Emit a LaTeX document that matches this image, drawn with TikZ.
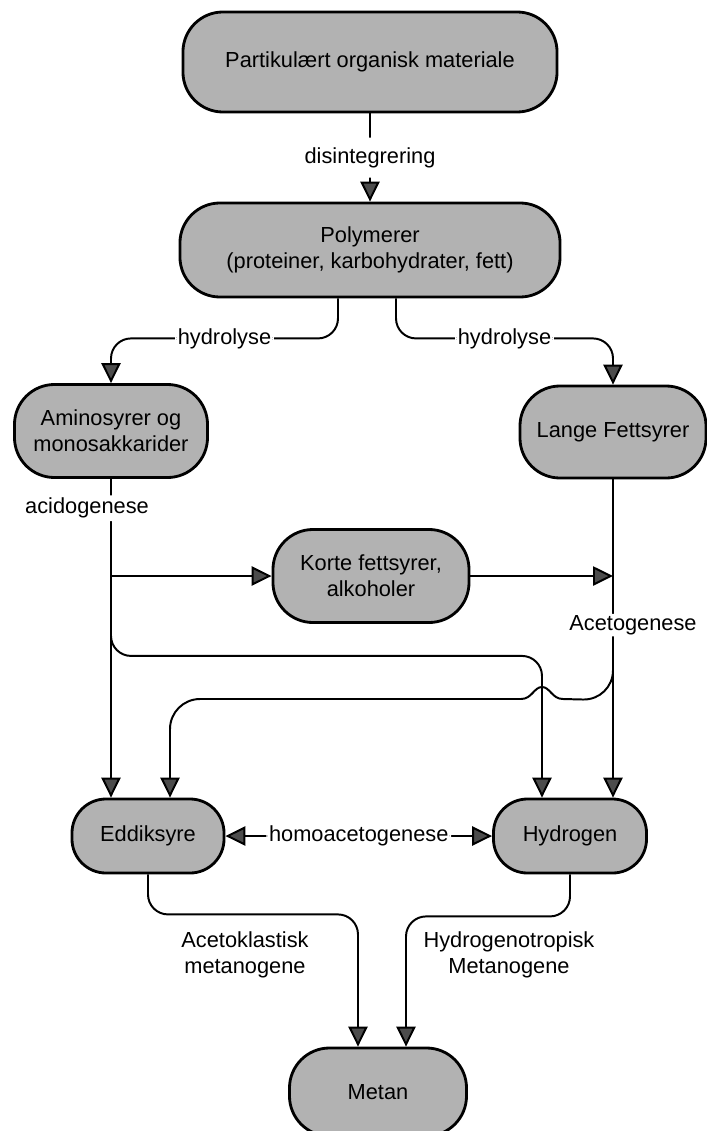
\documentclass[tikz,border=0pt]{standalone}
\usepackage{fontspec}
\setmainfont{Liberation Sans}
\usetikzlibrary{arrows.meta}

\begin{document}
\begin{tikzpicture}[x=0.025cm, y=-0.025cm,
      font=\fontsize{15.5}{18.5}\selectfont,
      flowtip/.tip={Triangle[length=0.5cm, width=0.48cm, fill=black!70]},
      box/.style={draw, line width=2pt, fill=black!30, rounded corners=1cm,
        align=center, inner sep=0pt},
      flow/.style={line width=1.4pt, rounded corners=0.5cm, -flowtip},
      lbl/.style={fill=white, inner sep=2pt}]
      \useasboundingbox (0,0) rectangle (707,1131);
      \node[box, minimum width=9.35cm, minimum height=2.5cm] (part) at (370,62) {Partikulært organisk materiale};
      \node[box, minimum width=9.5cm, minimum height=2.35cm] (poly) at (370,250) {Polymerer\\(proteiner, karbohydrater, fett)};
      \node[box, minimum width=4.825cm, minimum height=2.325cm] (amino) at (111,431) {Aminosyrer og\\monosakkarider};
      \node[box, minimum width=4.65cm, minimum height=2.3cm] (lange) at (613,432) {Lange Fettsyrer};
      \node[box, minimum width=4.9cm, minimum height=2.325cm] (korte) at (371,576) {Korte fettsyrer,\\alkoholer};
      \node[box, rounded corners=0.85cm, minimum width=3.8cm, minimum height=1.85cm] (eddik) at (148,836) {Eddiksyre};
      \node[box, rounded corners=0.85cm, minimum width=3.825cm, minimum height=1.85cm] (hydro) at (570,836) {Hydrogen};
      \node[box, minimum width=4.425cm, minimum height=2.2cm] (metan) at (378,1092) {Metan};
      \draw[flow] (part) -- node[lbl, inner ysep=7pt] {disintegrering} (poly);
      \draw[flow] ([xshift=-0.8cm]poly.south) -- ++(0,40) -| node[lbl, pos=0.25] {hydrolyse} (amino.north);
      \draw[flow] ([xshift=0.65cm]poly.south) -- ++(0,40) -| node[lbl, pos=0.25] {hydrolyse} (lange.north);
      \draw[flow] (amino.south) -- node[lbl, pos=0.092, xshift=-0.6cm] {acidogenese} (amino.south |- eddik.north);
      \draw[flow] (amino.south |- korte.west) -- (korte.west);
      \draw[flow] (amino.south |- korte.south) -- ++(0,32) -| ([xshift=-0.7cm]hydro.north);
      \draw[flow] (korte.east) -- (korte.east -| lange.south);
      \draw[flow] (lange.south) -- node[lbl, pos=0.458, xshift=0.5cm, inner sep=1pt] (acet) {Acetogenese} (lange.south |- hydro.north);
      \draw[line width=1.4pt, rounded corners=0.75cm] (lange.south |- acet.south) -- ++(0,63) -- (563,699);
      \draw[line width=1.4pt] (563,699) .. controls (552,699) and (550,687) .. (542,687)
        .. controls (534,687) and (532,699) .. (521,699);
      \draw[flow, rounded corners=0.75cm] (521,699) -| ([xshift=0.55cm]eddik.north);
      \draw[flow, flowtip-flowtip] (eddik.east) -- node[lbl] {homoacetogenese} (hydro.west);
      \draw[flow] (eddik.south) -- ++(0,40) -| ([xshift=-0.5cm]metan.north);
      \draw[flow] (hydro.south) -- ++(0,42) -| ([xshift=0.7cm]metan.north);
      \node[align=center] (aceto) at (245,955) {Acetoklastisk\\metanogene};
      \node[align=center] (hydrot) at (509,955) {Hydrogenotropisk\\Metanogene};
     \end{tikzpicture}
\end{document}
